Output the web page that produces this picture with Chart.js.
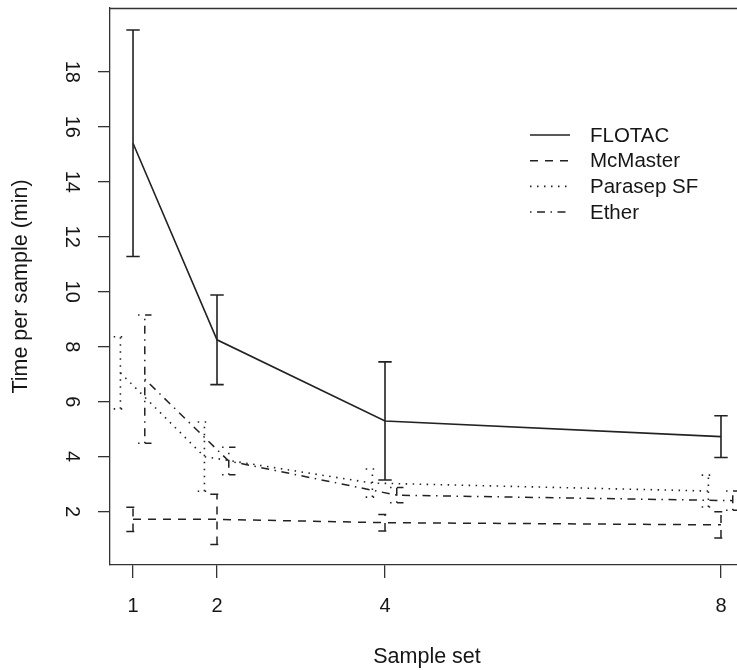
<!DOCTYPE html>
<html><head><meta charset="utf-8">
<script src="https://cdn.jsdelivr.net/npm/chart.js@4.4.1/dist/chart.umd.min.js"></script>
<style>
html,body{margin:0;padding:0;background:#fff;overflow:hidden;width:737px;height:670px}
#wrap{position:relative;width:760px;height:670px}
</style></head><body>
<div id="wrap"><canvas id="c" width="760" height="670"></canvas></div>
<script>
// ---- data ----
const sampleSets = [1, 2, 4, 8];
const xTickLabels = ['1', '2', '4', '8'];
const yTickValues = [2, 4, 6, 8, 10, 12, 14, 16, 18];
const seriesNames = ['FLOTAC', 'McMaster', 'Parasep SF', 'Ether'];
const flotacMean   = [15.4, 8.25, 5.3, 4.73];
const flotacErr    = [4.12, 1.63, 2.15, 0.76];
const mcmasterMean = [1.72, 1.72, 1.6, 1.52];
const mcmasterErr  = [0.44, 0.91, 0.3, 0.48];
const parasepMean  = [7.05, 4.0, 3.04, 2.75];
const parasepErr   = [1.31, 1.26, 0.51, 0.58];
const etherMean    = [6.82, 3.84, 2.6, 2.4];
const etherErr     = [2.33, 0.5, 0.28, 0.35];

// ---- styling ----
const FAMILY = '"Liberation Sans", Arial, Helvetica, sans-serif';
const TICK_FONT = {family: FAMILY, size: 20};
const TITLE_FONT = {family: FAMILY, size: 21.5};
const LEGEND_SIZE = 20.5;
const INK = '#161616';
const LINE = '#222';
const dashes = [[], [8, 7], [1.5, 5.5], [1.5, 5.5, 8, 5.5]];
const dodges = [0, 0, -0.15, 0.14];
const widths = [1.6, 1.5, 1.6, 1.5];
const CAP = 0.08;

const means = [flotacMean, mcmasterMean, parasepMean, etherMean];
const errs = [flotacErr, mcmasterErr, parasepErr, etherErr];

function lineData(m, d) {
  return sampleSets.map((s, i) => ({x: s + d, y: m[i]}));
}
function errData(m, e, d) {
  const pts = [];
  sampleSets.forEach((s, i) => {
    const x = s + d, lo = m[i] - e[i], hi = m[i] + e[i];
    pts.push({x, y: lo}, {x, y: hi}, {x, y: null});
    pts.push({x: x - CAP, y: hi}, {x: x + CAP, y: hi}, {x, y: null});
    pts.push({x: x - CAP, y: lo}, {x: x + CAP, y: lo}, {x, y: null});
  });
  return pts;
}

const datasets = [];
seriesNames.forEach((name, k) => {
  const common = {showLine: true, pointRadius: 0, borderColor: LINE, borderWidth: widths[k],
    borderDash: dashes[k], fill: false, spanGaps: false, tension: 0};
  datasets.push(Object.assign({label: name, data: lineData(means[k], dodges[k])}, common));
  datasets.push(Object.assign({label: name + ' err', data: errData(means[k], errs[k], dodges[k])}, common));
});

const boxPlugin = {
  id: 'box',
  afterDraw(chart) {
    const {ctx, chartArea: a} = chart;
    ctx.save();
    ctx.strokeStyle = '#333';
    ctx.lineWidth = 1.3;
    ctx.beginPath();
    ctx.moveTo(a.left, Math.round(a.top) + 0.5);
    ctx.lineTo(a.right, Math.round(a.top) + 0.5);
    ctx.moveTo(Math.round(a.right) + 0.5, a.top);
    ctx.lineTo(Math.round(a.right) + 0.5, a.bottom);
    ctx.stroke();
    ctx.restore();
  }
};

const legendPlugin = {
  id: 'rlegend',
  afterDraw(chart) {
    const ctx = chart.ctx;
    const x0 = 530, x1 = 570, tx = 590, y0 = 135, dy = 25.7;
    ctx.save();
    seriesNames.forEach((name, k) => {
      const y = y0 + k * dy;
      ctx.strokeStyle = LINE;
      ctx.lineWidth = widths[k];
      ctx.setLineDash(dashes[k]);
      ctx.beginPath();
      ctx.moveTo(x0, y);
      ctx.lineTo(x1, y);
      ctx.stroke();
      ctx.setLineDash([]);
      ctx.fillStyle = INK;
      ctx.font = LEGEND_SIZE + 'px ' + FAMILY;
      ctx.textBaseline = 'middle';
      ctx.textAlign = 'left';
      ctx.fillText(name, tx, y + 1);
    });
    ctx.restore();
  }
};

new Chart(document.getElementById('c'), {
  type: 'scatter',
  data: {datasets},
  plugins: [boxPlugin, legendPlugin],
  options: {
    responsive: false,
    animation: false,
    devicePixelRatio: 1,
    layout: {padding: {top: 8, left: 0, right: 16, bottom: 0}},
    plugins: {legend: {display: false}, tooltip: {enabled: false}},
    scales: {
      x: {
        type: 'linear', min: 0.726, max: 8.274,
        afterBuildTicks: s => { s.ticks = sampleSets.map(v => ({value: v})); },
        afterFit: s => { s.height = 105; s.paddingLeft = 0; s.paddingRight = 0; },
        ticks: {
          font: TICK_FONT, color: INK, padding: 16, maxRotation: 0, autoSkip: false,
          callback: (v) => xTickLabels[sampleSets.indexOf(v)]
        },
        grid: {display: true, drawOnChartArea: false, drawTicks: true, tickLength: 13, color: '#333', lineWidth: 1.3},
        border: {display: true, color: '#333', width: 1.3},
        title: {display: true, text: 'Sample set', font: TITLE_FONT, color: INK, padding: {top: 0, bottom: 0}}
      },
      y: {
        type: 'linear', min: 0.06, max: 20.32,
        afterBuildTicks: s => { s.ticks = yTickValues.map(v => ({value: v})); },
        afterFit: s => { s.width = 110; s.paddingTop = 0; s.paddingBottom = 0; },
        ticks: {
          font: TICK_FONT, color: INK, padding: 15, minRotation: -90, maxRotation: -90,
          crossAlign: 'center', autoSkip: false,
          callback: (v) => String(v)
        },
        grid: {display: true, drawOnChartArea: false, drawTicks: true, tickLength: 12, color: '#333', lineWidth: 1.3},
        border: {display: true, color: '#333', width: 1.3},
        title: {display: true, text: 'Time per sample (min)', font: TITLE_FONT, color: INK, padding: {top: 8, bottom: 0}}
      }
    }
  }
});
</script>
</body></html>
